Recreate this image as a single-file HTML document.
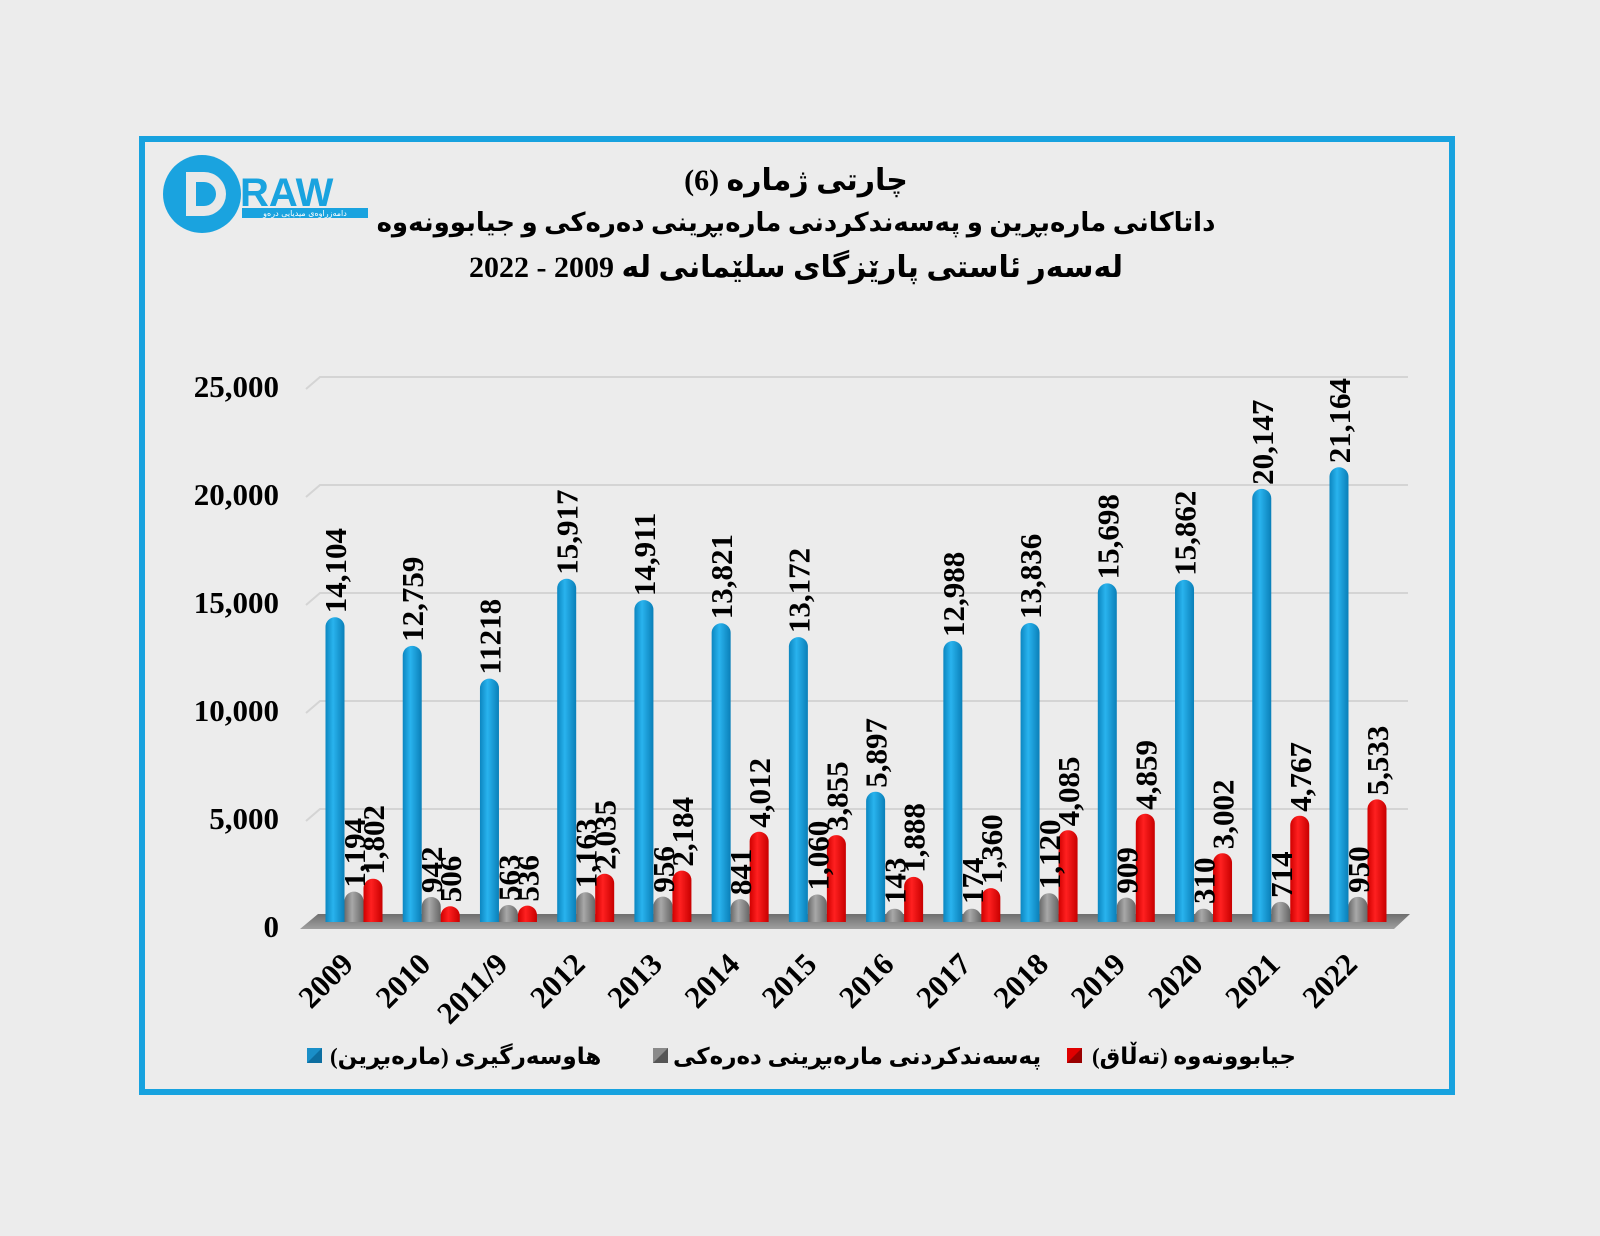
<!DOCTYPE html>
<html><head><meta charset="utf-8"><style>
html,body{margin:0;padding:0;background:#ececec;}
svg{display:block}
.t{font-family:"Liberation Serif","DejaVu Sans",serif;font-weight:bold;fill:#000}
</style></head><body>
<svg id="s" width="1600" height="1236" viewBox="0 0 1600 1236" xmlns="http://www.w3.org/2000/svg">
<defs>
<linearGradient id="gb" x1="0" x2="1" y1="0" y2="0"><stop offset="0" stop-color="#0c86c0"/><stop offset="0.4" stop-color="#29b3ee"/><stop offset="1" stop-color="#0a7fb8"/></linearGradient>
<linearGradient id="gg" x1="0" x2="1" y1="0" y2="0"><stop offset="0" stop-color="#6a6a6a"/><stop offset="0.4" stop-color="#a8a8a8"/><stop offset="1" stop-color="#666"/></linearGradient>
<linearGradient id="gr" x1="0" x2="1" y1="0" y2="0"><stop offset="0" stop-color="#d00000"/><stop offset="0.4" stop-color="#ff2020"/><stop offset="1" stop-color="#c80000"/></linearGradient>
<linearGradient id="fl" x1="0" x2="0" y1="0" y2="1"><stop offset="0" stop-color="#6e6e6e"/><stop offset="1" stop-color="#a0a0a0"/></linearGradient>
</defs>
<rect x="142" y="139" width="1310" height="953" fill="#ececec" stroke="#17a2df" stroke-width="6"/>
<circle cx="202" cy="194" r="39" fill="#1aa3df"/>
<path d="M186 172 h18 a22 22 0 0 1 0 44 h-18 z M196 182 v24 h8 a12 12 0 0 0 0 -24 z" fill="#e8e8e8" fill-rule="evenodd"/>
<text x="240" y="206" font-family="Liberation Sans,sans-serif" font-weight="bold" font-size="40" fill="#1aa3df">RAW</text>
<rect x="242" y="208" width="126" height="10" fill="#1aa3df"/>
<text x="305" y="216" font-family="DejaVu Sans,sans-serif" font-size="8" fill="#fff" text-anchor="middle">دامەزراوەی میدیایی درەو</text>
<text class="t" x="796" y="190" font-size="30" text-anchor="middle">چارتی ژمارە (6)</text>
<text class="t" x="796" y="231" font-size="26" text-anchor="middle">داتاکانی مارەبڕین و پەسەندکردنی مارەبڕینی دەرەکی و جیابوونەوە</text>
<text class="t" x="796" y="277" font-size="30" text-anchor="middle">لەسەر ئاستی پارێزگای سلێمانی لە 2009 - 2022</text>
<g id="g"></g>
<rect x="307" y="1048" width="15" height="15" fill="#1a8fc8"/><path d="M307 1063 L322 1048 V1063Z" fill="#0d6ea0"/>
<text class="t" x="330" y="1064" font-size="23" font-family="DejaVu Sans,sans-serif">(مارەبڕین) هاوسەرگیری</text>
<rect x="653" y="1048" width="15" height="15" fill="#8a8a8a"/><path d="M653 1063 L668 1048 V1063Z" fill="#555"/>
<text class="t" x="673" y="1064" font-size="23" font-family="DejaVu Sans,sans-serif">پەسەندکردنی مارەبڕینی دەرەکی</text>
<rect x="1067" y="1048" width="15" height="15" fill="#e00000"/><path d="M1067 1063 L1082 1048 V1063Z" fill="#900"/>
<text class="t" x="1092" y="1064" font-size="23" font-family="DejaVu Sans,sans-serif">جیابوونەوە (تەڵاق)</text>
</svg>
<script>
var B=[14104,12759,11218,15917,14911,13821,13172,5897,12988,13836,15698,15862,20147,21164];
var BL=["14,104","12,759","11218","15,917","14,911","13,821","13,172","5,897","12,988","13,836","15,698","15,862","20,147","21,164"];
var G=[1194,942,563,1163,956,841,1060,143,174,1120,909,310,714,950];
var R=[1802,506,536,2035,2184,4012,3855,1888,1360,4085,4859,3002,4767,5533];
var Y=["2009","2010","2011/9","2012","2013","2014","2015","2016","2017","2018","2019","2020","2021","2022"];
function f(n){return n.toString().replace(/\B(?=(\d{3})+(?!\d))/g,",");}
var h="";var y0=917,k=0.0216,kb=0.02125,yb=922;
for(var i=0;i<=5;i++){var y=y0-i*5000*k;
 if(i>0)h+='<path d="M306 '+(y+12)+' L320 '+y+' H1408" stroke="#d4d4d4" stroke-width="2" fill="none"/>';
 h+='<text class="t" x="279" y="'+(y+20)+'" font-size="31" text-anchor="end">'+f(i*5000)+'</text>';}
h+='<polygon points="318,914 1410,914 1394,929 300,929" fill="url(#fl)"/>';
function bar(cx,v,g){var t=y0-v*kb,r=9.5;if(yb-t<r*1.4)t=yb-r*1.4;
 return '<path d="M'+(cx-r)+' '+yb+' V'+(t+r)+' A'+r+' '+r+' 0 0 1 '+(cx+r)+' '+(t+r)+' V'+yb+' Z" fill="url(#'+g+')"/>';}
function lab(cx,v,s){var t=y0-v*kb;if(yb-t<14)t=yb-14;return '<text class="t" font-size="31" transform="translate('+(cx+11)+','+(t-4)+') rotate(-90)">'+s+'</text>';}
for(var i=0;i<14;i++){var c=335+i*77.23;
 h+=bar(c,B[i],"gb")+bar(c+19,G[i],"gg")+bar(c+38,R[i],"gr");
 h+=lab(c,B[i],BL[i])+lab(c+19,G[i],f(G[i]))+lab(c+38,R[i],f(R[i]));
 h+='<text class="t" font-size="31" text-anchor="end" transform="translate('+(c+20)+',966) rotate(-45)">'+Y[i]+'</text>';}
document.getElementById("g").innerHTML=h;
</script>
</body></html>
